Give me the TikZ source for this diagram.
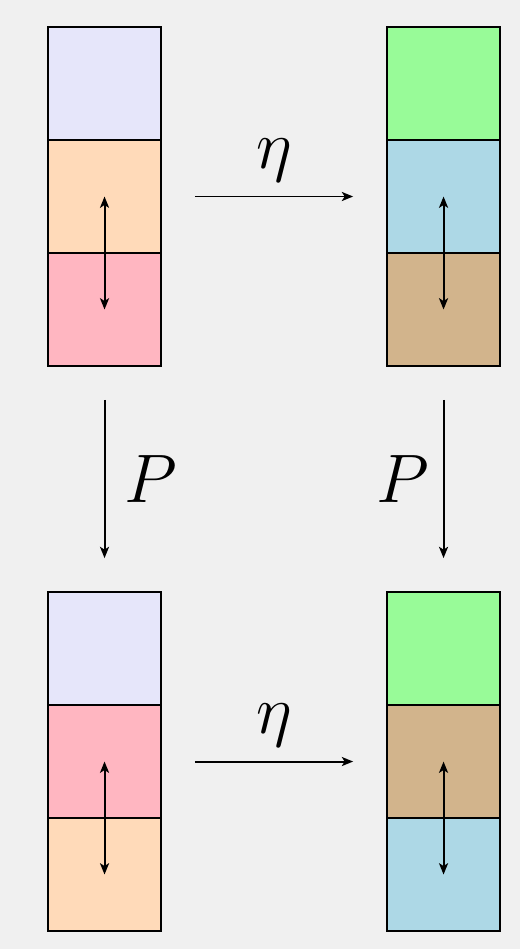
\documentclass[tikz,border=0pt]{standalone}
\usetikzlibrary{arrows.meta, positioning}
\definecolor{cbg}{HTML}{F0F0F0}
\definecolor{clav}{HTML}{E6E6FA}
\definecolor{cpeach}{HTML}{FFDAB9}
\definecolor{cpink}{HTML}{FFB6C1}
\definecolor{cgreen}{HTML}{98FB98}
\definecolor{cblue}{HTML}{ADD8E6}
\definecolor{ctan}{HTML}{D2B48C}
\tikzset{
  every picture/.style={line width=0.5pt, >={Stealth[length=1mm, width=0.8mm, inset=0.25mm]}},
  cell/.style={draw, fill=#1, minimum width=1cm, minimum height=1cm, inner sep=0pt, outer sep=0pt},
  cell/.default=white,
  arrow/.style={->, shorten <=0.3cm, shorten >=0.3cm},
  swap/.style={<->},
  lbl/.style={font=\fontsize{16}{19}\selectfont},
}

\begin{document}
\begin{tikzpicture}
  \fill[cbg] (-0.425,0.239) rectangle (4.177,-8.159);
  \useasboundingbox (-0.425,0.239) rectangle (4.177,-8.159);
  % top row
  \node[cell=clav] (a1) at (0.5,-0.5) {};
  \node[cell=cpeach, below=0cm of a1] (a2) {};
  \node[cell=cpink, below=0cm of a2] (a3) {};
  \node[cell=cgreen] (b1) at (3.5,-0.5) {};
  \node[cell=cblue, below=0cm of b1] (b2) {};
  \node[cell=ctan, below=0cm of b2] (b3) {};
  % bottom row
  \node[cell=clav] (c1) at (0.5,-5.5) {};
  \node[cell=cpink, below=0cm of c1] (c2) {};
  \node[cell=cpeach, below=0cm of c2] (c3) {};
  \node[cell=cgreen] (d1) at (3.5,-5.5) {};
  \node[cell=ctan, below=0cm of d1] (d2) {};
  \node[cell=cblue, below=0cm of d2] (d3) {};
  \foreach \f/\t in {a2/a3, b2/b3, c2/c3, d2/d3}
    \draw[swap] (\f.center) -- (\t.center);
  \foreach \f/\t in {a2/b2, c2/d2}
    \draw[arrow] (\f.east) -- node[above, lbl] {$\eta$} (\t.west);
  \draw[arrow] (a3.south) -- node[right=1.5pt, lbl] {$P$} (c1.north);
  \draw[arrow] (b3.south) -- node[left, lbl] {$P$} (d1.north);
\end{tikzpicture}
\end{document}
